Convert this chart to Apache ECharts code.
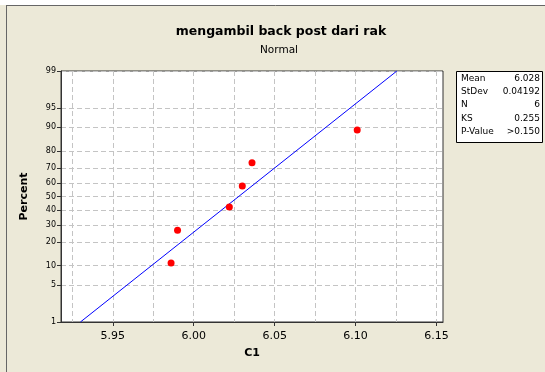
<!DOCTYPE html>
<html>
<head>
<meta charset="utf-8">
<script src="https://cdn.jsdelivr.net/npm/echarts@6/dist/echarts.min.js"></script>
<style>
  html, body { margin: 0; padding: 0; background: #fff; }
  #chart { width: 545px; height: 372px; }
</style>
</head>
<body>
<div id="chart"></div>
<script>
// data
const dataX = [5.986, 5.990, 6.022, 6.030, 6.036, 6.101]
const dataPct = [10.9, 26.6, 42.2, 57.8, 73.4, 89.1]
// fitted line end points (1% and 99%)
const fitX = [5.930, 6.1255]
const fitPct = [1, 99]
// axis ticks
const pctTicks = [1, 5, 10, 20, 30, 40, 50, 60, 70, 80, 90, 95, 99]
const xLabelTicks = [5.95, 6.00, 6.05, 6.10, 6.15]
const xGridTicks = [5.925, 5.95, 5.975, 6.00, 6.025, 6.05, 6.075, 6.10, 6.125, 6.15]
const statNames = ['Mean', 'StDev', 'N', 'KS', 'P-Value']
const statValues = ['6.028', '0.04192', '6', '0.255', '>0.150']

// inverse normal cdf (Acklam), used for the probability scale
function probit(p) {
  const a = [-39.69683028665376, 220.9460984245205, -275.9285104469687, 138.3577518672690, -30.66479806614716, 2.506628277459239]
  const b = [-54.47609879822406, 161.5858368580409, -155.6989798598866, 66.80131188771972, -13.28068155288572]
  const c = [-0.007784894002430293, -0.3223964580411365, -2.400758277161838, -2.549732539343734, 4.374664141464968, 2.938163982698783]
  const d = [0.007784695709041462, 0.3224671290700398, 2.445134137142996, 3.754408661907416]
  const pl = 0.02425
  let q, r
  if (p < pl) {
    q = Math.sqrt(-2 * Math.log(p))
    return (((((c[0] * q + c[1]) * q + c[2]) * q + c[3]) * q + c[4]) * q + c[5]) / ((((d[0] * q + d[1]) * q + d[2]) * q + d[3]) * q + 1)
  }
  if (p > 1 - pl) {
    q = Math.sqrt(-2 * Math.log(1 - p))
    return -(((((c[0] * q + c[1]) * q + c[2]) * q + c[3]) * q + c[4]) * q + c[5]) / ((((d[0] * q + d[1]) * q + d[2]) * q + d[3]) * q + 1)
  }
  q = p - 0.5
  r = q * q
  return (((((a[0] * r + a[1]) * r + a[2]) * r + a[3]) * r + a[4]) * r + a[5]) * q / (((((b[0] * r + b[1]) * r + b[2]) * r + b[3]) * r + b[4]) * r + 1)
}

const zTicks = pctTicks.map(p => probit(p / 100))
const zMin = zTicks[0]
const zMax = zTicks[zTicks.length - 1]

const FONT = 'DejaVu Sans'
const BG = '#ECE9D8'
const gridStyle = { color: '#c4c4c4', width: 1, type: [5, 3] }

let statGraphics = []
statNames.forEach((name, i) => {
  statGraphics.push({
    type: 'text', left: 461, top: 74 + i * 13.3,
    style: { text: name, font: '9px "DejaVu Sans"', fill: '#000' }
  })
  statGraphics.push({
    type: 'text', right: 5, top: 74 + i * 13.3,
    style: { text: statValues[i], font: '9px "DejaVu Sans"', fill: '#000', align: 'right' }
  })
})

let myChart = echarts.init(document.getElementById('chart'), null, { renderer: 'canvas' })
let option = {
  backgroundColor: BG,
  animation: false,
  textStyle: { fontFamily: FONT },
  grid: {
    left: 61, top: 71, right: 102, bottom: 50,
    show: true, backgroundColor: '#fff', borderColor: '#333', borderWidth: 1
  },
  xAxis: [
    {
      type: 'value', min: 5.918, max: 6.154,
      name: 'C1', nameLocation: 'middle', nameGap: 26,
      nameTextStyle: { fontFamily: FONT, fontWeight: 'bold', fontSize: 11, color: '#000' },
      axisLine: { show: true, onZero: false, lineStyle: { color: '#333' } },
      axisTick: { show: true, length: 4, customValues: xLabelTicks, lineStyle: { color: '#333' } },
      axisLabel: {
        customValues: xLabelTicks, fontSize: 11, color: '#000', margin: 9,
        formatter: v => v.toFixed(2)
      },
      splitLine: { show: false }
    },
    {
      type: 'value', min: 5.918, max: 6.154, position: 'bottom',
      axisLine: { show: false, onZero: false },
      axisTick: { show: false, customValues: xGridTicks },
      axisLabel: { show: false, customValues: xGridTicks },
      splitLine: { show: true, lineStyle: gridStyle }
    }
  ],
  yAxis: {
    type: 'value', min: zMin, max: zMax,
    name: 'Percent', nameLocation: 'middle', nameGap: 31,
    nameTextStyle: { fontFamily: FONT, fontWeight: 'bold', fontSize: 11, color: '#000' },
    axisLine: { show: true, onZero: false, lineStyle: { color: '#333' } },
    axisTick: { show: true, length: 4, customValues: zTicks, lineStyle: { color: '#333' } },
    axisLabel: {
      customValues: zTicks, fontSize: 8, color: '#000', margin: 5,
      formatter: v => {
        let i = zTicks.findIndex(z => Math.abs(z - v) < 1e-6)
        return i >= 0 ? String(pctTicks[i]) : ''
      }
    },
    splitLine: { show: true, lineStyle: gridStyle }
  },
  graphic: [
    { type: 'rect', left: 0, top: 0, shape: { width: 545, height: 5 }, style: { fill: '#fff' }, silent: true },
    { type: 'line', shape: { x1: 6, y1: 5.5, x2: 545, y2: 5.5 }, style: { stroke: '#666', lineWidth: 1 } },
    { type: 'line', shape: { x1: 6.5, y1: 5, x2: 6.5, y2: 372 }, style: { stroke: '#666', lineWidth: 1 } },
    {
      type: 'text', x: 281, y: 32,
      style: { text: 'mengambil back post dari rak', font: 'bold 12.5px "DejaVu Sans"', fill: '#000', align: 'center', verticalAlign: 'middle' }
    },
    {
      type: 'text', x: 279, y: 50,
      style: { text: 'Normal', font: '10.5px "DejaVu Sans"', fill: '#000', align: 'center', verticalAlign: 'middle' }
    },
    {
      type: 'rect', left: 456, top: 71,
      shape: { width: 86, height: 71 },
      style: { fill: '#fff', stroke: '#000', lineWidth: 1 }
    }
  ].concat(statGraphics),
  series: [
    {
      name: 'fit',
      type: 'line',
      xAxisIndex: 0,
      showSymbol: false,
      lineStyle: { color: '#0000ff', width: 1 },
      data: fitX.map((x, i) => [x, probit(fitPct[i] / 100)]),
      z: 3
    },
    {
      name: 'C1',
      type: 'scatter',
      xAxisIndex: 0,
      symbolSize: 7,
      itemStyle: { color: '#ff0000', opacity: 1 },
      data: dataX.map((x, i) => [x, probit(dataPct[i] / 100)]),
      z: 4
    }
  ]
}
myChart.setOption(option)
</script>
</body>
</html>
